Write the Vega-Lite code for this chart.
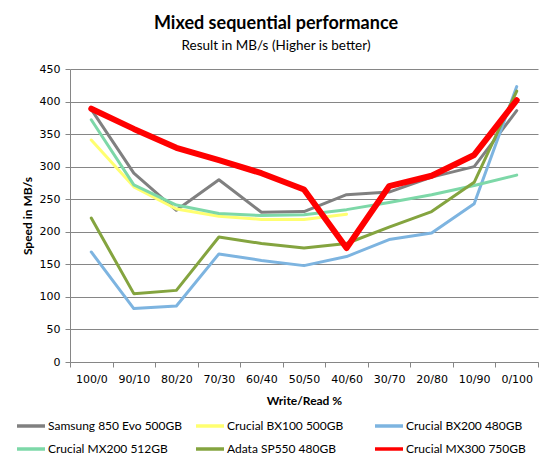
{
  "$schema": "https://vega.github.io/schema/vega-lite/v6.json",
  "autosize": {"type": "none"},
  "padding": {"left": 70, "top": 69, "right": 14, "bottom": 98},
  "width": 468,
  "height": 293,
  "background": "white",
  "title": {
    "text": "Mixed sequential performance",
    "subtitle": "Result in MB/s (Higher is better)",
    "font": "Lato",
    "fontSize": 18,
    "fontWeight": "bold",
    "subtitleFont": "Lato",
    "subtitleFontSize": 13.5,
    "subtitleColor": "black",
    "subtitlePadding": 6,
    "color": "black",
    "anchor": "middle",
    "frame": "group",
    "dx": -28,
    "offset": 11
  },
  "data": {
    "values": [
      {"w": "100/0", "d": "Samsung 850 Evo 500GB", "v": 388},
      {"w": "90/10", "d": "Samsung 850 Evo 500GB", "v": 290},
      {"w": "80/20", "d": "Samsung 850 Evo 500GB", "v": 233},
      {"w": "70/30", "d": "Samsung 850 Evo 500GB", "v": 280},
      {"w": "60/40", "d": "Samsung 850 Evo 500GB", "v": 230},
      {"w": "50/50", "d": "Samsung 850 Evo 500GB", "v": 231},
      {"w": "40/60", "d": "Samsung 850 Evo 500GB", "v": 257},
      {"w": "30/70", "d": "Samsung 850 Evo 500GB", "v": 261},
      {"w": "20/80", "d": "Samsung 850 Evo 500GB", "v": 284},
      {"w": "10/90", "d": "Samsung 850 Evo 500GB", "v": 300},
      {"w": "0/100", "d": "Samsung 850 Evo 500GB", "v": 386},
      {"w": "100/0", "d": "Crucial BX100 500GB", "v": 341},
      {"w": "90/10", "d": "Crucial BX100 500GB", "v": 269},
      {"w": "80/20", "d": "Crucial BX100 500GB", "v": 235},
      {"w": "70/30", "d": "Crucial BX100 500GB", "v": 224},
      {"w": "60/40", "d": "Crucial BX100 500GB", "v": 219},
      {"w": "50/50", "d": "Crucial BX100 500GB", "v": 219},
      {"w": "40/60", "d": "Crucial BX100 500GB", "v": 227},
      {"w": "100/0", "d": "Crucial BX200 480GB", "v": 169},
      {"w": "90/10", "d": "Crucial BX200 480GB", "v": 82},
      {"w": "80/20", "d": "Crucial BX200 480GB", "v": 86},
      {"w": "70/30", "d": "Crucial BX200 480GB", "v": 166},
      {"w": "60/40", "d": "Crucial BX200 480GB", "v": 156},
      {"w": "50/50", "d": "Crucial BX200 480GB", "v": 148},
      {"w": "40/60", "d": "Crucial BX200 480GB", "v": 162},
      {"w": "30/70", "d": "Crucial BX200 480GB", "v": 188},
      {"w": "20/80", "d": "Crucial BX200 480GB", "v": 198},
      {"w": "10/90", "d": "Crucial BX200 480GB", "v": 243},
      {"w": "0/100", "d": "Crucial BX200 480GB", "v": 423},
      {"w": "100/0", "d": "Crucial MX200 512GB", "v": 372},
      {"w": "90/10", "d": "Crucial MX200 512GB", "v": 272},
      {"w": "80/20", "d": "Crucial MX200 512GB", "v": 241},
      {"w": "70/30", "d": "Crucial MX200 512GB", "v": 228},
      {"w": "60/40", "d": "Crucial MX200 512GB", "v": 225},
      {"w": "50/50", "d": "Crucial MX200 512GB", "v": 226},
      {"w": "40/60", "d": "Crucial MX200 512GB", "v": 234},
      {"w": "30/70", "d": "Crucial MX200 512GB", "v": 245},
      {"w": "20/80", "d": "Crucial MX200 512GB", "v": 257},
      {"w": "10/90", "d": "Crucial MX200 512GB", "v": 271},
      {"w": "0/100", "d": "Crucial MX200 512GB", "v": 287},
      {"w": "100/0", "d": "Adata SP550 480GB", "v": 221},
      {"w": "90/10", "d": "Adata SP550 480GB", "v": 105},
      {"w": "80/20", "d": "Adata SP550 480GB", "v": 110},
      {"w": "70/30", "d": "Adata SP550 480GB", "v": 192},
      {"w": "60/40", "d": "Adata SP550 480GB", "v": 182},
      {"w": "50/50", "d": "Adata SP550 480GB", "v": 175},
      {"w": "40/60", "d": "Adata SP550 480GB", "v": 182},
      {"w": "30/70", "d": "Adata SP550 480GB", "v": 207},
      {"w": "20/80", "d": "Adata SP550 480GB", "v": 231},
      {"w": "10/90", "d": "Adata SP550 480GB", "v": 276},
      {"w": "0/100", "d": "Adata SP550 480GB", "v": 416},
      {"w": "100/0", "d": "Crucial MX300 750GB", "v": 389},
      {"w": "90/10", "d": "Crucial MX300 750GB", "v": 358},
      {"w": "80/20", "d": "Crucial MX300 750GB", "v": 329},
      {"w": "70/30", "d": "Crucial MX300 750GB", "v": 310},
      {"w": "60/40", "d": "Crucial MX300 750GB", "v": 290},
      {"w": "50/50", "d": "Crucial MX300 750GB", "v": 265},
      {"w": "40/60", "d": "Crucial MX300 750GB", "v": 175},
      {"w": "30/70", "d": "Crucial MX300 750GB", "v": 270},
      {"w": "20/80", "d": "Crucial MX300 750GB", "v": 286},
      {"w": "10/90", "d": "Crucial MX300 750GB", "v": 318},
      {"w": "0/100", "d": "Crucial MX300 750GB", "v": 402}
    ]
  },
  "mark": {"type": "line", "strokeCap": "round", "strokeJoin": "round"},
  "encoding": {
    "x": {
      "field": "w",
      "type": "ordinal",
      "sort": ["100/0", "90/10", "80/20", "70/30", "60/40", "50/50", "40/60", "30/70", "20/80", "10/90", "0/100"],
      "scale": {"type": "band", "paddingInner": 0, "paddingOuter": 0},
      "axis": {
        "title": "Write/Read %",
        "labelAngle": 0,
        "tickBand": "extent",
        "grid": false
      }
    },
    "y": {
      "field": "v",
      "type": "quantitative",
      "scale": {"domain": [0, 450], "nice": false},
      "axis": {"title": "Speed in MB/s", "values": [0, 50, 100, 150, 200, 250, 300, 350, 400, 450]}
    },
    "color": {
      "field": "d",
      "type": "nominal",
      "sort": ["Samsung 850 Evo 500GB", "Crucial BX100 500GB", "Crucial BX200 480GB", "Crucial MX200 512GB", "Adata SP550 480GB", "Crucial MX300 750GB"],
      "scale": {
        "domain": ["Samsung 850 Evo 500GB", "Crucial BX100 500GB", "Crucial BX200 480GB", "Crucial MX200 512GB", "Adata SP550 480GB", "Crucial MX300 750GB"],
        "range": ["#808080", "#ffff70", "#7db4e0", "#7dd8a8", "#84a43f", "#ff0000"]
      },
      "legend": {
        "title": null,
        "orient": "none",
        "legendX": -55,
        "legendY": 341,
        "direction": "horizontal",
        "columns": 3,
        "gridAlign": "all",
        "columnPadding": 6,
        "rowPadding": -6,
        "symbolType": "stroke",
        "symbolSize": 784,
        "symbolStrokeWidth": 3.5,
        "labelOffset": 1,
        "labelFont": "Lato",
        "labelFontSize": 12,
        "labelColor": "black",
        "labelLimit": 200
      }
    },
    "strokeWidth": {
      "condition": {"test": "datum.d === 'Crucial MX300 750GB'", "value": 6},
      "value": 3
    }
  },
  "config": {
    "view": {"stroke": null},
    "axis": {
      "domainColor": "#868686",
      "tickColor": "#868686",
      "gridColor": "#868686",
      "gridOpacity": 1,
      "labelFont": "DejaVu Sans",
      "labelFontSize": 11,
      "labelColor": "black",
      "titleFont": "Lato",
      "titleFontSize": 12,
      "titleFontWeight": "bold",
      "titleColor": "black",
      "tickSize": 5
    },
    "axisY": {"labelPadding": 5, "titlePadding": 5},
    "axisX": {"labelPadding": 6, "titlePadding": 11}
  }
}
